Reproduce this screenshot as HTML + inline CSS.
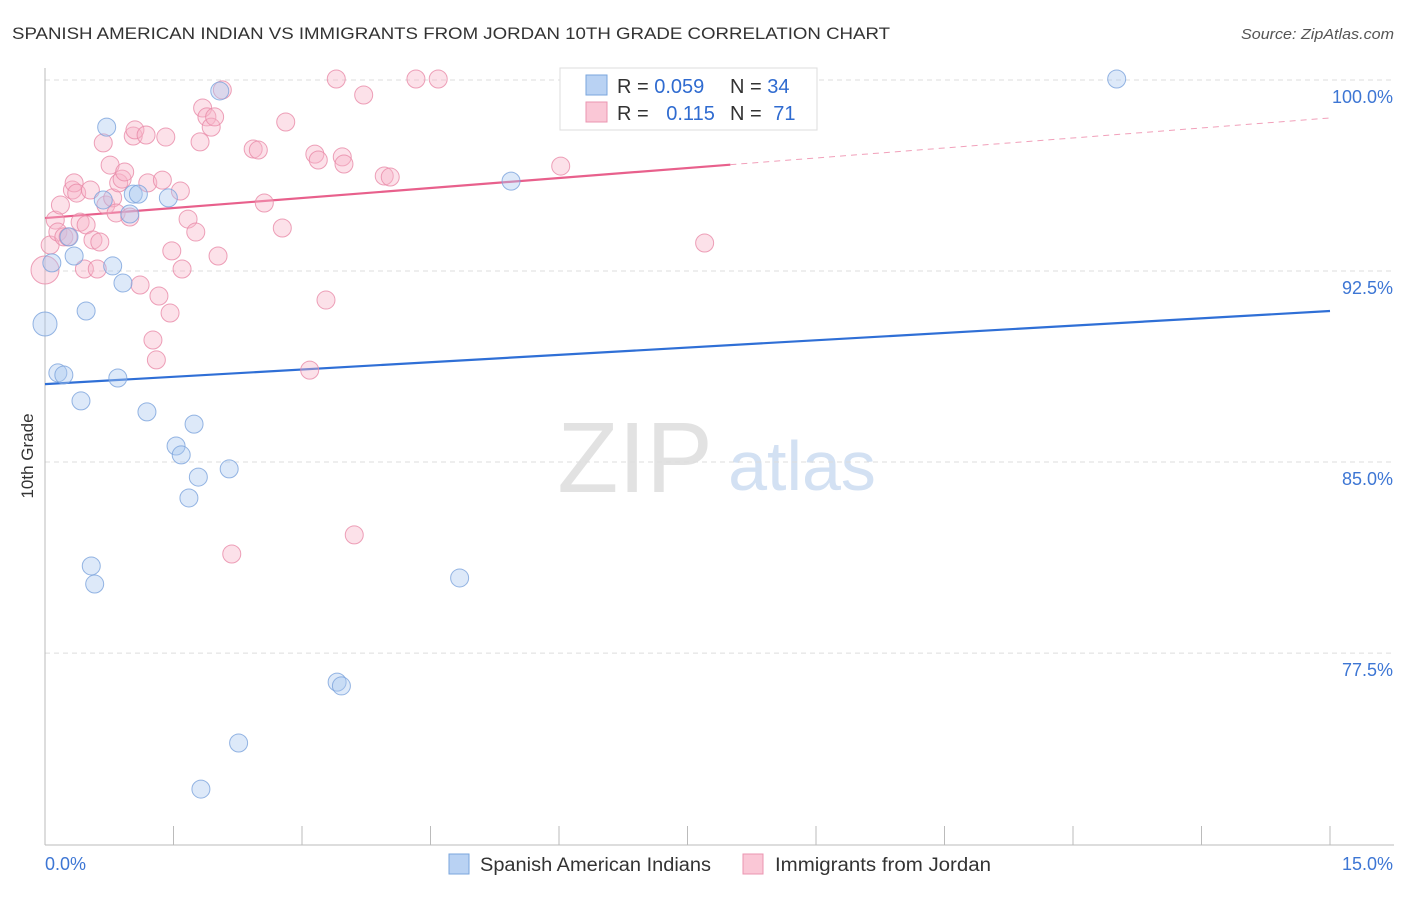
<!DOCTYPE html>
<html><head><meta charset="utf-8"><style>
body{margin:0;background:#fff;font-family:"Liberation Sans",sans-serif;}
svg text{font-family:"Liberation Sans",sans-serif;}
</style></head><body>
<svg id="chart" width="1406" height="892" xmlns="http://www.w3.org/2000/svg">
<text x="12" y="39" font-size="17" fill="#333" textLength="878" lengthAdjust="spacingAndGlyphs">SPANISH AMERICAN INDIAN VS IMMIGRANTS FROM JORDAN 10TH GRADE CORRELATION CHART</text>
<text x="1241" y="39" font-size="15" fill="#555" font-style="italic" textLength="153" lengthAdjust="spacingAndGlyphs">Source: ZipAtlas.com</text>
<text transform="translate(33,456) rotate(-90)" font-size="17" fill="#333" text-anchor="middle">10th Grade</text>
<g><text x="635" y="492" font-size="100" fill="#e2e2e2" text-anchor="middle" font-family="Liberation Serif">ZIP</text><text x="802" y="490" font-size="70" fill="#d3e1f3" text-anchor="middle">atlas</text></g>
<g id="grid"></g><g id="axes"></g><g id="lines"></g><g id="points"></g>
<g>
<rect x="560" y="68" width="257" height="62" fill="#fff" stroke="#ddd"/>
<rect x="586" y="75" width="21" height="20" fill="#b9d2f3" stroke="#7aa6dc"/>
<rect x="586" y="102" width="21" height="20" fill="#fac7d6" stroke="#eb94b0"/>
<text x="617" y="93" font-size="20" fill="#333">R = <tspan fill="#2f6bd0">0.059</tspan></text>
<text x="730" y="93" font-size="20" fill="#333">N = <tspan fill="#2f6bd0">34</tspan></text>
<text x="617" y="120" font-size="20" fill="#333">R = <tspan fill="#2f6bd0" dx="12">0.115</tspan></text>
<text x="730" y="120" font-size="20" fill="#333">N = <tspan fill="#2f6bd0" dx="6">71</tspan></text>
</g>
<g>
<rect x="449" y="854" width="20" height="20" fill="#b9d2f3" stroke="#7aa6dc"/>
<text x="480" y="871" font-size="19" fill="#333" textLength="231" lengthAdjust="spacingAndGlyphs">Spanish American Indians</text>
<rect x="743" y="854" width="20" height="20" fill="#fac7d6" stroke="#eb94b0"/>
<text x="775" y="871" font-size="19" fill="#333" textLength="216" lengthAdjust="spacingAndGlyphs">Immigrants from Jordan</text>
</g>
</svg>
<script>
const yTicks=[100,92.5,85,77.5];
const yTickLabels=["100.0%","92.5%","85.0%","77.5%"];
const xTickCount=10;
const blueX=[0,0.08,0.15,0.22,0.28,0.34,0.42,0.48,0.54,0.58,0.68,0.72,0.79,0.85,0.91,0.99,1.03,1.09,1.19,1.44,1.53,1.59,1.68,1.74,1.79,2.04,2.15,2.26,1.82,3.41,3.46,4.84,5.44,12.51];
const blueY=[90.42,92.82,88.5,88.42,93.84,93.09,87.4,90.93,80.92,80.21,95.29,98.15,92.7,88.3,92.03,94.74,95.52,95.52,86.97,95.37,85.63,85.28,83.59,86.49,84.41,99.57,84.73,73.97,72.16,76.36,76.21,80.45,96.03,100.04];
const pinkX=[0,0.06,0.12,0.15,0.18,0.22,0.27,0.32,0.34,0.37,0.41,0.46,0.48,0.53,0.56,0.61,0.64,0.68,0.71,0.76,0.79,0.83,0.86,0.9,0.93,0.99,1.03,1.05,1.11,1.18,1.2,1.26,1.3,1.33,1.37,1.41,1.46,1.48,1.58,1.6,1.67,1.76,1.81,1.84,1.89,1.94,1.98,2.02,2.07,2.18,2.43,2.49,2.56,2.77,2.81,3.09,3.15,3.19,3.28,3.4,3.47,3.49,3.61,3.72,3.96,4.03,4.33,4.59,6.02,7.7];
const pinkY=[92.54,93.52,94.5,94.03,95.09,93.84,93.84,95.68,95.96,95.56,94.42,92.58,94.31,95.68,93.72,92.58,93.64,97.53,95.09,96.66,95.37,94.78,95.96,96.11,96.39,94.62,97.8,98.04,91.95,97.84,95.96,89.79,89.01,91.52,96.07,97.76,90.85,93.29,95.64,92.58,94.54,94.03,97.57,98.9,98.55,98.15,98.55,93.09,99.61,81.39,97.29,97.25,95.17,94.19,98.35,88.61,97.09,96.86,91.36,100.04,96.98,96.7,82.14,99.41,96.23,96.19,100.04,100.04,96.62,93.6];
const blueTrend=[88.06,90.93];
const pinkTrend=[94.58,98.51];
const pinkSolidEnd=8.0;
const NS="http://www.w3.org/2000/svg";
const sx=v=>45+v/15*1285;
const sy=v=>80+(100-v)*25.47;
function mk(tag,attrs,parent){const e=document.createElementNS(NS,tag);for(const k in attrs)e.setAttribute(k,attrs[k]);document.getElementById(parent).appendChild(e);return e;}
yTicks.forEach((t,i)=>{
 const g=mk('line',{x1:45,x2:1394,y1:sy(t),y2:sy(t),stroke:'#ddd','stroke-dasharray':'5,4'},'grid');
 
 
 const l=mk('text',{x:1393,y:sy(t)+23,'font-size':18,fill:'#3d76d4','text-anchor':'end'},'axes');
 l.textContent=yTickLabels[i];
 
 
});
const ax=mk('line',{x1:45,x2:45,y1:68,y2:845,stroke:'#bbb'},'axes');


const bx=mk('line',{x1:45,x2:1394,y1:845,y2:845,stroke:'#bbb'},'axes');


for(let i=0;i<=xTickCount;i++){
 const v=i*15/xTickCount;
 const t=mk('line',{x1:sx(v),x2:sx(v),y1:826,y2:845,stroke:'#bbb'},'axes');
 
 
}
const x0=mk('text',{x:45,y:870,'font-size':18,fill:'#3d76d4'},'axes');x0.textContent='0.0%';


const x1=mk('text',{x:1393,y:870,'font-size':18,fill:'#3d76d4','text-anchor':'end'},'axes');x1.textContent='15.0%';


function pts(X,Y,fill,stroke,name){X.forEach((x,i)=>{
 const r=(i===0)?(name==='pink-point'?14:12):9;
 const c=mk('circle',{cx:sx(x),cy:sy(Y[i]),r:r,fill:fill,stroke:stroke,'stroke-width':1,'fill-opacity':0.4,'stroke-opacity':0.8},'points');
 
 
});}
pts(pinkX,pinkY,'#f7b5c9','#e88aa8','pink-point');
pts(blueX,blueY,'#a9c7ef','#7aa3dc','blue-point');
const bl=mk('line',{x1:sx(0),y1:sy(blueTrend[0]),x2:sx(15),y2:sy(blueTrend[1]),stroke:'#2f6fd6','stroke-width':2.2},'lines');


const py=x=>pinkTrend[0]+(pinkTrend[1]-pinkTrend[0])*x/15;
const pl=mk('line',{x1:sx(0),y1:sy(py(0)),x2:sx(pinkSolidEnd),y2:sy(py(pinkSolidEnd)),stroke:'#e8608c','stroke-width':2.2},'lines');


const pd=mk('line',{x1:sx(pinkSolidEnd),y1:sy(py(pinkSolidEnd)),x2:sx(15),y2:sy(py(15)),stroke:'#e8608c','stroke-width':1,'stroke-dasharray':'6,5','stroke-opacity':0.6},'lines');


</script>
</body></html>
